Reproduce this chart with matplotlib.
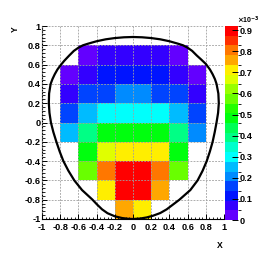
import numpy as np
import matplotlib
matplotlib.use("Agg")
import matplotlib.pyplot as plt
from matplotlib.colors import ListedColormap, BoundaryNorm
from matplotlib.ticker import FixedLocator, MultipleLocator, FuncFormatter
import colorsys

# ---------------- data (bin contents in units of 1e-3) ----------------
x_edges = [-1.0, -0.8, -0.6, -0.4, -0.2, 0.0, 0.2, 0.4, 0.6, 0.8, 1.0]
y_edges = [-1.0, -0.8, -0.6, -0.4, -0.2, 0.0, 0.2, 0.4, 0.6, 0.8, 1.0]
N = np.nan
row_y_m09 = [N, N, N, N, 0.76, 0.71, N, N, N, N]
row_y_m07 = [N, N, N, 0.71, 0.91, 0.90, 0.76, N, N, N]
row_y_m05 = [N, N, 0.575, 0.805, 0.91, 0.91, 0.805, 0.575, N, N]
row_y_m03 = [N, N, 0.48, 0.665, 0.71, 0.71, 0.71, 0.48, N, N]
row_y_m01 = [N, 0.25, 0.39, 0.48, 0.48, 0.48, 0.48, 0.39, 0.21, N]
row_y_p01 = [N, 0.16, 0.25, 0.31, 0.31, 0.31, 0.31, 0.25, 0.16, N]
row_y_p03 = [N, 0.07, 0.16, 0.16, 0.21, 0.21, 0.16, 0.16, 0.07, N]
row_y_p05 = [N, 0.025, 0.07, 0.115, 0.115, 0.115, 0.115, 0.07, 0.025, N]
row_y_p07 = [N, N, 0.025, 0.07, 0.07, 0.07, 0.07, 0.025, N, N]
row_y_p09 = [N, N, N, N, N, N, N, N, N, N]

z_max = 0.92
cbar_ticks = [0.0, 0.1, 0.2, 0.3, 0.4, 0.5, 0.6, 0.7, 0.8, 0.9]
axis_ticks = [-1.0, -0.8, -0.6, -0.4, -0.2, 0.0, 0.2, 0.4, 0.6, 0.8, 1.0]

# kinematic boundary (closed curve, clockwise from the top)
curve_x = [0.00, 0.10, 0.20, 0.30, 0.40, 0.50, 0.55, 0.60, 0.65, 0.70, 0.75, 0.80,
           0.845, 0.875, 0.90, 0.918, 0.938, 0.943, 0.935, 0.918, 0.898, 0.875,
           0.845, 0.81, 0.765, 0.71, 0.63, 0.51, 0.44, 0.37, 0.30, 0.22, 0.15,
           0.08, 0.00,
           -0.05, -0.12, -0.20, -0.28, -0.34, -0.395, -0.445, -0.56, -0.645,
           -0.71, -0.765, -0.806, -0.842, -0.875, -0.902, -0.918, -0.925, -0.922,
           -0.905, -0.885, -0.86, -0.83, -0.79, -0.755, -0.70, -0.65, -0.60,
           -0.55, -0.50, -0.40, -0.30, -0.20, -0.10, 0.00]
curve_y = [0.886, 0.883, 0.875, 0.862, 0.842, 0.815, 0.800, 0.775, 0.742, 0.695, 0.652, 0.607,
           0.55, 0.50, 0.45, 0.40, 0.30, 0.20, 0.10, 0.00, -0.10, -0.20,
           -0.30, -0.40, -0.50, -0.60, -0.70, -0.80, -0.85, -0.90, -0.938, -0.966, -0.984,
           -0.995, -1.000,
           -0.998, -0.99, -0.972, -0.94, -0.90, -0.85, -0.80, -0.70, -0.60,
           -0.50, -0.40, -0.30, -0.20, -0.10, 0.00, 0.10, 0.20, 0.30,
           0.40, 0.45, 0.50, 0.55, 0.60, 0.64, 0.695, 0.742, 0.775,
           0.800, 0.815, 0.842, 0.862, 0.875, 0.883, 0.886]

# ---------------- style ----------------
plt.rcParams['font.family'] = ['Liberation Sans', 'DejaVu Sans']
plt.rcParams['font.weight'] = 'bold'

# ROOT "pretty" palette, 20 contour levels
n_levels = 20
n_colors = 50
colors = []
for i in range(n_levels):
    idx = int((i + 0.99) * n_colors / n_levels)
    hue = 280.0 - (idx + 1) * (280.0 / n_colors)
    colors.append(colorsys.hls_to_rgb(hue / 360.0, 0.5, 1.0))
cmap = ListedColormap(colors)
bounds = np.linspace(0, z_max, n_levels + 1)
norm = BoundaryNorm(bounds, cmap.N)

Z = np.ma.masked_invalid(np.array([row_y_m09, row_y_m07, row_y_m05, row_y_m03,
                                   row_y_m01, row_y_p01, row_y_p03, row_y_p05,
                                   row_y_p07, row_y_p09]))

W, H = 270, 262
fig = plt.figure(figsize=(W / 100, H / 100), dpi=100)
ax = fig.add_axes([42 / W, 43 / H, 182 / W, 193 / H])
cax = fig.add_axes([225 / W, 42 / H, 13 / W, 194 / H])

mesh = ax.pcolormesh(x_edges, y_edges, Z, cmap=cmap, norm=norm, zorder=1)
ax.plot(curve_x, curve_y, color='black', lw=1.6, zorder=4,
        solid_joinstyle='round', solid_capstyle='round')

ax.set_xlim(-1, 1)
ax.set_ylim(-1, 1)
fmt = FuncFormatter(lambda v, p: ('%g' % round(v, 2)).replace('\u2212', '-'))
for axis in (ax.xaxis, ax.yaxis):
    axis.set_major_locator(FixedLocator(axis_ticks))
    axis.set_minor_locator(MultipleLocator(0.04))
    axis.set_major_formatter(fmt)
ax.tick_params(which='major', direction='in', length=3.6, width=0.7,
               labelsize=6.6, colors='black')
ax.tick_params(which='minor', direction='in', length=1.8, width=0.6)
ax.tick_params(axis='x', pad=2.6)
ax.tick_params(axis='y', pad=1.0)
ax.set_axisbelow(False)
ax.grid(True, which='major', color='#a0a0a0', linestyle=(0, (2.2, 1.5)),
        linewidth=0.6, zorder=2)
for s in ('top', 'right'):
    ax.spines[s].set_visible(False)
for s in ('left', 'bottom'):
    ax.spines[s].set_linewidth(0.8)

fig.text(223 / W, 1 - 245.5 / H, 'X', ha='right', va='center',
         fontsize=6.2, fontweight='bold')
fig.text(15 / W, 1 - 29.5 / H, 'Y', ha='center', va='center', rotation=90,
         fontsize=6.2, fontweight='bold')

cb = fig.colorbar(mesh, cax=cax, ticks=cbar_ticks)
cb.outline.set_visible(False)
cb.ax.yaxis.set_major_formatter(fmt)
cb.ax.tick_params(direction='in', length=4.3, width=0.7, labelsize=6.6, pad=1.0)
fig.text(237 / W, 1 - 20.5 / H, r'$\times$10$^{-3}$', ha='left', va='center',
         fontsize=5.0)

fig.savefig('out.png', dpi=100)
